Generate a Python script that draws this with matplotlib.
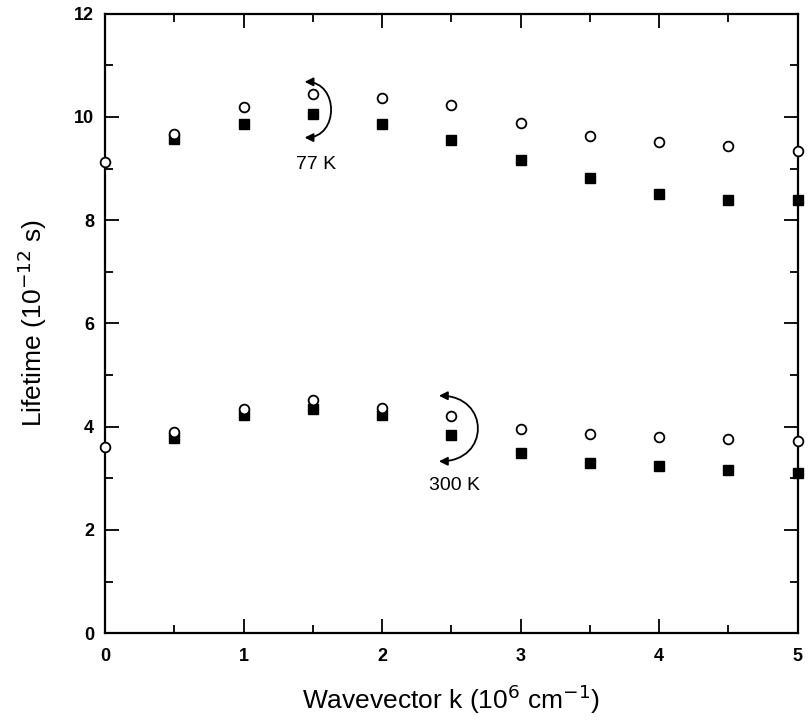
import matplotlib
matplotlib.use("Agg")
import matplotlib.pyplot as plt
from matplotlib.patches import FancyArrowPatch
from matplotlib.path import Path
from matplotlib.ticker import MultipleLocator

plt.rcParams["font.family"] = ["Liberation Sans", "DejaVu Sans"]

# Wavevector k (10^6 cm^-1)
k = [0, 0.5, 1, 1.5, 2, 2.5, 3, 3.5, 4, 4.5, 5]
k_sq = [0.5, 1, 1.5, 2, 2.5, 3, 3.5, 4, 4.5, 5]

# 77 K lifetimes (10^-12 s)
t77_open = [9.12, 9.67, 10.2, 10.45, 10.37, 10.23, 9.88, 9.63, 9.51, 9.43, 9.35]
t77_filled = [9.57, 9.86, 10.06, 9.86, 9.55, 9.16, 8.82, 8.5, 8.4, 8.4]

# 300 K lifetimes (10^-12 s)
t300_open = [3.6, 3.9, 4.35, 4.52, 4.37, 4.2, 3.95, 3.85, 3.8, 3.76, 3.72]
t300_filled = [3.79, 4.23, 4.35, 4.23, 3.84, 3.5, 3.29, 3.24, 3.16, 3.11]

fig = plt.figure(figsize=(8.09, 7.22), dpi=100)
ax = fig.add_axes([0.130, 0.123, 0.856, 0.858])

# Open circles
for t in [t77_open, t300_open]:
    ax.plot(k, t, "o", ms=7, mfc="white", mec="black", mew=1.3,
            linestyle="none", clip_on=False, zorder=4)

# Filled squares
for t in [t77_filled, t300_filled]:
    ax.plot(k_sq, t, "s", ms=7, mfc="black", mec="black",
            linestyle="none", clip_on=False, zorder=3)


def bracket_arrow(x0, y_top, y_bot, w):
    # ")" shaped curve, arrow heads pointing left at both ends
    verts = [(x0, y_top), (x0 + w, y_top), (x0 + w, y_bot), (x0, y_bot)]
    codes = [Path.MOVETO, Path.CURVE4, Path.CURVE4, Path.CURVE4]
    p = FancyArrowPatch(path=Path(verts, codes),
                        arrowstyle="<|-|>,head_length=5,head_width=2.5",
                        color="black", lw=1.3)
    ax.add_patch(p)


bracket_arrow(1.44, 10.68, 9.6, 0.25)
bracket_arrow(2.41, 4.6, 3.33, 0.37)

ax.text(1.52, 9.08, "77 K", fontsize=14, ha="center", va="center")
ax.text(2.52, 2.87, "300 K", fontsize=14, ha="center", va="center")

ax.set_xlim(0, 5)
ax.set_ylim(0, 12)
ax.xaxis.set_major_locator(MultipleLocator(1))
ax.xaxis.set_minor_locator(MultipleLocator(0.5))
ax.yaxis.set_major_locator(MultipleLocator(2))
ax.yaxis.set_minor_locator(MultipleLocator(1))
ax.tick_params(which="both", direction="in", top=True, right=True,
               labelsize=13, width=1.3)
ax.tick_params(which="major", length=10, pad=8)
ax.tick_params(axis="x", which="major", pad=11)
ax.tick_params(which="minor", length=6)
for lab in ax.get_xticklabels() + ax.get_yticklabels():
    lab.set_fontweight("bold")
for s in ax.spines.values():
    s.set_linewidth(1.6)

ax.set_xlabel("Wavevector k (10$^{6}$ cm$^{-1}$)", fontsize=19, labelpad=12)
ax.set_ylabel("Lifetime (10$^{-12}$ s)", fontsize=19, labelpad=18)

fig.savefig("out.png", dpi=100)
